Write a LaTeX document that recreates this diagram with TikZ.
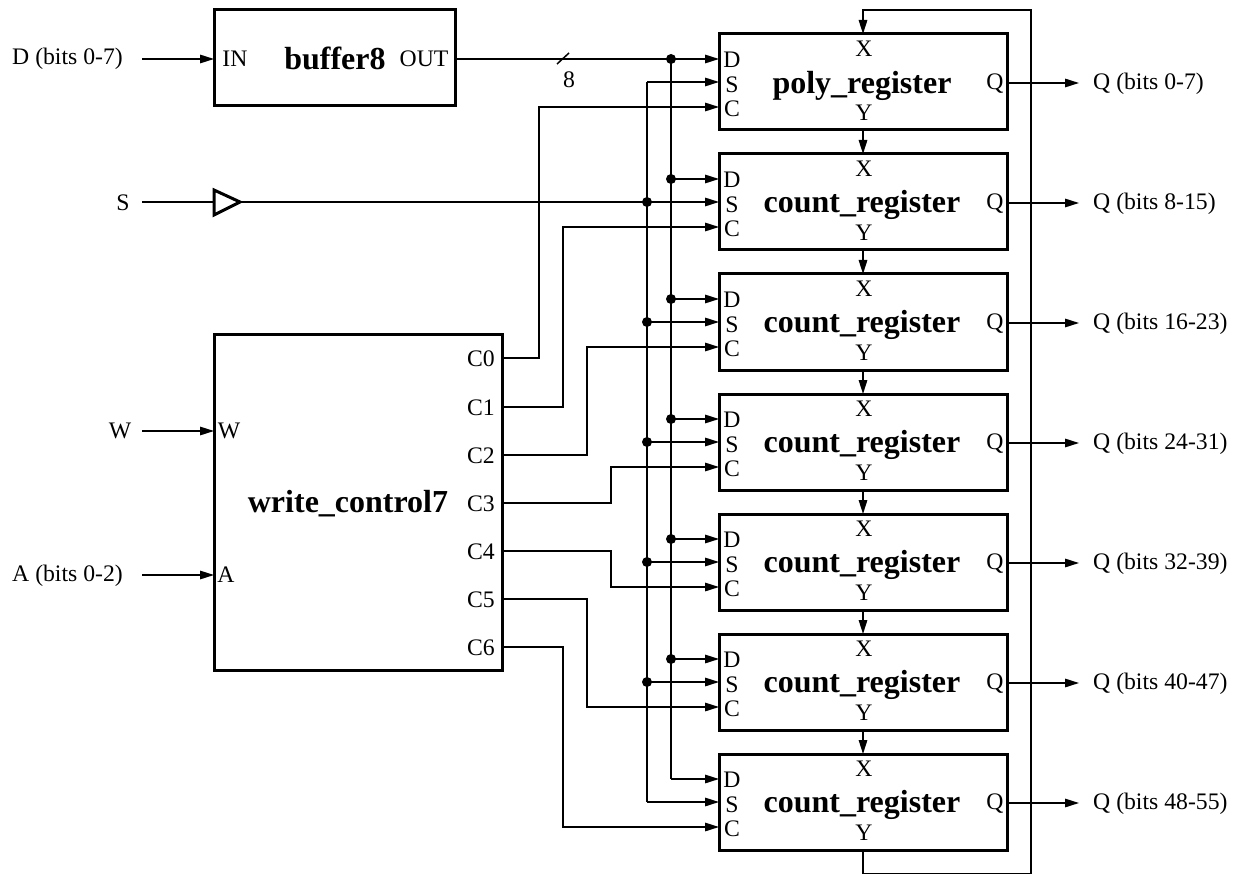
\documentclass[tikz,border=0pt]{standalone}
\usepackage{fontspec}
\setmainfont{Liberation Serif}
\usetikzlibrary{arrows.meta}
\tikzset{x=1pt,y=-1pt,
 blockbox/.style={draw,line width=3pt,rectangle,anchor=north west,inner sep=0pt,outer sep=0pt},
 wire/.style={line width=1.5pt,line join=miter},
 arr/.style={wire,-{Triangle[length=14pt,width=8.5pt]}},
 pin/.style={inner sep=0pt,font=\fontsize{23.7}{23.7}\selectfont},
 lab/.style={inner sep=0pt,font=\fontsize{23.7}{23.7}\selectfont},
 title/.style={inner sep=0pt,font=\fontsize{32}{32}\selectfont\bfseries},
 dotj/.style={circle,fill=black,inner sep=0pt,minimum size=10pt}}
\begin{document}
\begin{tikzpicture}
\useasboundingbox (0,0) rectangle (1241,874);
% buffer8
\node[blockbox,minimum width=241pt,minimum height=96pt] (buf) at (214,10) {};
\node[pin] (bin) at (235,59) {IN};
\node[title] (bt) at (335,58) {buffer8};
\node[pin] (bout) at (424,59) {OUT};
\coordinate (bufi) at (214,59);
\coordinate (bufo) at (455,59);
\node[lab,anchor=east] (dl) at (123,59) {D (bits 0-7)};
\coordinate (dls) at (142,59);
\draw[arr] (dls) -- (bufi);
% write control
\node[blockbox,minimum width=288pt,minimum height=336pt] (wc) at (214,334) {};
\node[title] (wct) at (348,504) {write\_control7};
\node[pin] (wpw) at (229,431) {W};
\node[pin] (wpa) at (226,575) {A};
\node[lab] (wl) at (120,431) {W};
\node[lab,anchor=east] (al) at (123,576) {A (bits 0-2)};
\coordinate (wls) at (142,431);
\coordinate (als) at (142,575);
\coordinate (wi) at (214,431);
\coordinate (ai) at (214,575);
\draw[arr] (wls) -- (wi);
\draw[arr] (als) -- (ai);
\foreach \i/\y in {0/359,1/408,2/456,3/504,4/552,5/600,6/648}{
  \node[pin] (cl\i) at (481,\y) {C\i};
}
\foreach \i/\y in {0/358,1/407,2/455,3/503,4/551,5/599,6/647}{
  \coordinate (co\i) at (502,\y);
}
% registers
\foreach \i/\t/\nm/\bits/\ty in {0/34/poly/0-7/52,1/154/count/8-15/51,2/274/count/16-23/51,3/394/count/24-31/51,4/514/count/32-39/51,5/634/count/40-47/51,6/754/count/48-55/51}{
  \node[blockbox,minimum width=288pt,minimum height=96pt] (r\i) at (719,\t) {};
  \node[title] (rt\i) at (862,\t+\ty) {\nm\_register};
  \node[pin] (pd\i) at (732,\t+25.5) {D};
  \node[pin] (ps\i) at (732,\t+50.5) {S};
  \node[pin] (pc\i) at (732,\t+75) {C};
  \node[pin] (px\i) at (864,\t+15) {X};
  \node[pin] (py\i) at (864,\t+79) {Y};
  \node[pin] (pq\i) at (995,\t+50) {Q};
  \coordinate (id\i) at (719,\t+25);
  \coordinate (is\i) at (719,\t+48);
  \coordinate (ic\i) at (719,\t+73);
  \coordinate (ix\i) at (863,\t);
  \coordinate (oy\i) at (863,\t+96);
  \coordinate (oq\i) at (1007,\t+49);
  \coordinate (qe\i) at (1079,\t+49);
  \node[lab,anchor=west] (ql\i) at (1093,\t+49.5) {Q (bits \bits)};
  \draw[arr] (oq\i) -- (qe\i);
}
% chain
\foreach \a/\b in {0/1,1/2,2/3,3/4,4/5,5/6}{
  \draw[arr] (oy\a) -- (ix\b);
}
% feedback
\coordinate (fb1) at (863,874);
\coordinate (fb2) at (1031,874);
\coordinate (fb3) at (1031,10);
\coordinate (fb4) at (863,10);
\draw[arr] (oy6) -- (fb1) -- (fb2) -- (fb3) -- (fb4) -- (ix0);
% D bus
\draw[arr] (bufo) -- (id0);
\coordinate (tk1) at (557,64);
\coordinate (tk2) at (569,53);
\draw[line width=1.5pt] (tk1) -- (tk2);
\node[lab] (eight) at (569,80) {8};
\coordinate (dbt) at (671,59);
\coordinate (dbb) at (671,779);
\draw[wire] (dbt) -- (dbb);
\draw[arr] (dbb) -- (id6);
\node[dotj] (jd0) at (dbt) {};
\foreach \i/\y in {1/179,2/299,3/419,4/539,5/659}{
  \node[dotj] (jd\i) at (671,\y) {};
  \draw[arr] (jd\i.center) -- (id\i);
}
% S input and bus
\node[lab] (sl) at (123,203) {S};
\coordinate (sls) at (142,202);
\coordinate (gl) at (214,202);
\coordinate (gr) at (240,202);
\draw[wire] (sls) -- (gl);
\draw[line width=3pt,line join=miter] (214,190) -- (240,202) -- (214,215) -- cycle;
\draw[arr] (gr) -- (is1);
\coordinate (sbt) at (647,82);
\coordinate (sbb) at (647,802);
\draw[wire] (sbt) -- (sbb);
\draw[arr] (sbt) -- (is0);
\draw[arr] (sbb) -- (is6);
\foreach \i/\y in {1/202,2/322,3/442,4/562,5/682}{
  \node[dotj] (js\i) at (647,\y) {};
}
\foreach \i in {2,3,4,5}{
  \draw[arr] (js\i.center) -- (is\i);
}
% control wires
\draw[arr] (co0) -| (539,107) -- (ic0);
\draw[arr] (co1) -| (563,227) -- (ic1);
\draw[arr] (co2) -| (587,347) -- (ic2);
\draw[arr] (co3) -| (611,467) -- (ic3);
\draw[arr] (co4) -| (611,587) -- (ic4);
\draw[arr] (co5) -| (587,707) -- (ic5);
\draw[arr] (co6) -| (563,827) -- (ic6);
\end{tikzpicture}
\end{document}
